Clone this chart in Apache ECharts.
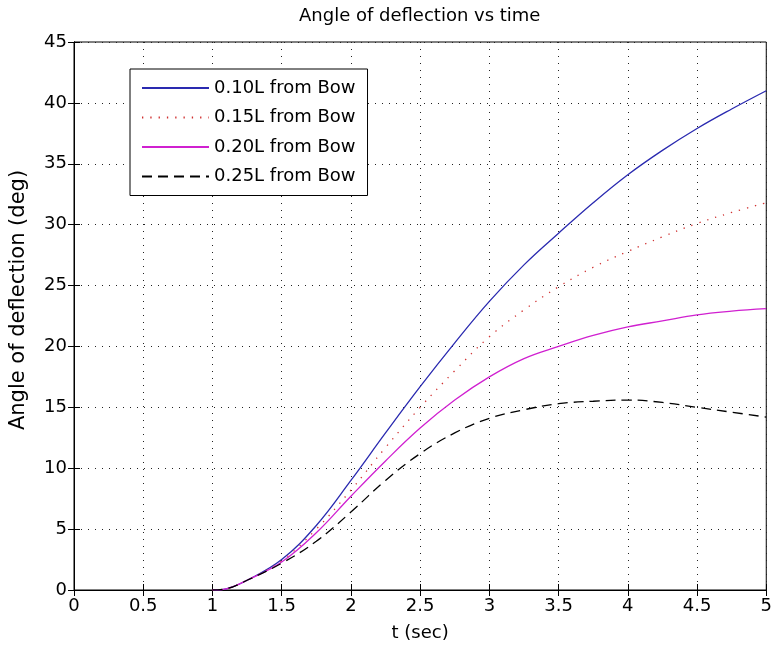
<!DOCTYPE html>
<html>
<head>
<meta charset="utf-8">
<script src="https://cdn.jsdelivr.net/npm/echarts@6/dist/echarts.min.js"></script>
<style>html,body{margin:0;padding:0;background:#fff}#c{width:775px;height:650px}</style>
</head>
<body>
<div id="c"></div>
<script>
const times   = [1, 1.1, 1.25, 1.5, 1.75, 2, 2.25, 2.5, 2.75, 3, 3.25, 3.5, 3.75, 4, 4.25, 4.5, 4.75, 5];
const bow010  = [0, 0.1, 0.8, 2.5, 5.3, 9.0, 12.9, 16.7, 20.3, 23.7, 26.7, 29.3, 31.8, 34.1, 36.1, 37.9, 39.5, 41.0];
const bow015  = [0, 0.1, 0.8, 2.4, 5.0, 8.2, 11.7, 15.0, 18.0, 20.8, 23.0, 24.9, 26.5, 27.8, 29.0, 30.1, 31.0, 31.8];
const bow020  = [0, 0.1, 0.8, 2.3, 4.7, 7.7, 10.6, 13.3, 15.6, 17.5, 19.0, 20.0, 20.9, 21.6, 22.1, 22.6, 22.9, 23.1];
const bow025  = [0, 0.1, 0.8, 2.2, 4.0, 6.4, 9.0, 11.2, 12.9, 14.1, 14.8, 15.3, 15.5, 15.6, 15.4, 15.0, 14.6, 14.2];
const seriesNames = ['0.10L from Bow', '0.15L from Bow', '0.20L from Bow', '0.25L from Bow'];
const titleText = 'Angle of deflection vs time';
const xName = 't (sec)';
const yName = 'Angle of deflection (deg)';

const FONT = 'DejaVu Sans';
const pair = arr => times.map((t, i) => [t, arr[i]]);
const gridLine = {show: true, lineStyle: {color: '#222', width: 1, type: [1, 6]}};
const tick = {show: true, inside: true, length: 6, lineStyle: {color: '#000'}};
const axLine = {show: true, lineStyle: {color: '#000', width: 1}};

const chart = echarts.init(document.getElementById('c'), null, {renderer: 'canvas'});
chart.setOption({
  backgroundColor: '#fff',
  animation: false,
  title: {
    text: titleText, left: 294, top: 2,
    textStyle: {fontFamily: FONT, fontSize: 18, fontWeight: 'normal', color: '#000'}
  },
  grid: {left: 73, right: 5, top: 42, bottom: 60, show: true, borderColor: '#000', borderWidth: 1, backgroundColor: '#fff'},
  legend: {
    orient: 'vertical', left: 130, top: 69,
    padding: [10, 12, 10, 11],
    backgroundColor: '#fff', borderColor: '#000', borderWidth: 1,
    itemWidth: 67, itemHeight: 14, itemGap: 11.5,
    itemStyle: {opacity: 0, borderWidth: 0},
    textStyle: {fontFamily: FONT, fontSize: 18, color: '#000', lineHeight: 18},
    data: seriesNames
  },
  xAxis: [{
    type: 'value', min: 0, max: 5, interval: 0.5,
    name: xName, nameLocation: 'middle', nameGap: 34,
    nameTextStyle: {fontFamily: FONT, fontSize: 18, color: '#000'},
    axisLine: axLine, axisTick: tick, splitLine: gridLine,
    axisLabel: {fontFamily: FONT, fontSize: 18, color: '#000', margin: 7}
  }, {
    type: 'value', min: 0, max: 5, interval: 0.5, position: 'top',
    axisLine: axLine, axisTick: tick, splitLine: {show: false}, axisLabel: {show: false}
  }],
  yAxis: [{
    type: 'value', min: 0, max: 45, interval: 5,
    name: yName, nameLocation: 'middle', nameGap: 45,
    nameTextStyle: {fontFamily: FONT, fontSize: 21, color: '#000', padding: [0, 0, 0, 32]},
    axisLine: axLine, axisTick: tick, splitLine: gridLine,
    axisLabel: {fontFamily: FONT, fontSize: 18, color: '#000', margin: 7}
  }, {
    type: 'value', min: 0, max: 45, interval: 5, position: 'right',
    axisLine: axLine, axisTick: tick, splitLine: {show: false}, axisLabel: {show: false}
  }],
  series: [
    {name: seriesNames[0], type: 'line', data: pair(bow010), smooth: 0.4, symbol: 'none',
     lineStyle: {color: '#2a2ab0', width: 1.3, type: 'solid'}, itemStyle: {color: '#2a2ab0'}},
    {name: seriesNames[1], type: 'line', data: pair(bow015), smooth: 0.4, symbol: 'none',
     lineStyle: {color: '#d03030', width: 1.3, type: [1.3, 7]}, itemStyle: {color: '#d03030'}},
    {name: seriesNames[2], type: 'line', data: pair(bow020), smooth: 0.4, symbol: 'none',
     lineStyle: {color: '#d020d0', width: 1.3, type: 'solid'}, itemStyle: {color: '#d020d0'}},
    {name: seriesNames[3], type: 'line', data: pair(bow025), smooth: 0.4, symbol: 'none',
     lineStyle: {color: '#000', width: 1.3, type: [10, 6]}, itemStyle: {color: '#000'}}
  ]
});
</script>
</body>
</html>
